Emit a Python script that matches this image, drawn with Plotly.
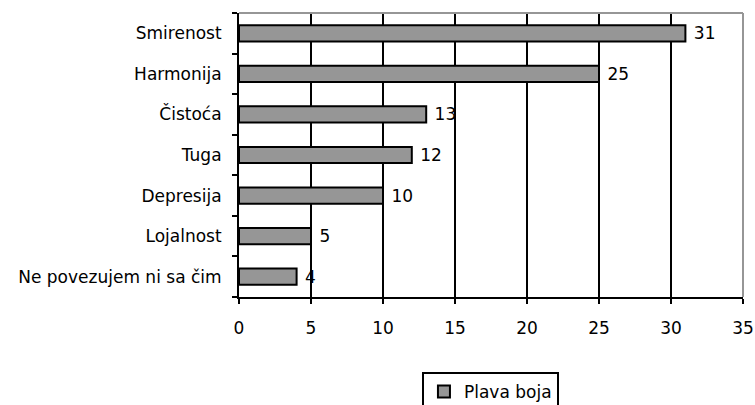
import plotly.graph_objects as go

categories = ["Smirenost", "Harmonija", "Čistoća", "Tuga", "Depresija", "Lojalnost", "Ne povezujem ni sa čim"]
values = [31, 25, 13, 12, 10, 5, 4]
series_name = "Plava boja"
x_ticks = [0, 5, 10, 15, 20, 25, 30, 35]

FONT = "DejaVu Sans"
FS = 17

fig = go.Figure()
fig.add_trace(go.Bar(
    y=categories, x=values, orientation="h", name=series_name,
    marker=dict(color="#969696", line=dict(color="black", width=2)),
    text=[" " + str(v) for v in values], textposition="outside",
    textfont=dict(family=FONT, size=FS, color="black"),
    constraintext="none", cliponaxis=False, showlegend=True,
))

fig.update_layout(
    width=755, height=405,
    margin=dict(l=239, r=12, t=13, b=108, autoexpand=False),
    paper_bgcolor="white", plot_bgcolor="white",
    font=dict(family=FONT, size=FS, color="black"),
    bargap=0.6,
    xaxis=dict(range=[0, 35], tickvals=x_ticks, showgrid=True, gridcolor="black", gridwidth=2,
               showline=True, linecolor="black", linewidth=2, ticks="outside", ticklen=5,
               tickwidth=2, tickcolor="black", zeroline=False, automargin=False,
               ticklabelstandoff=10,
               tickfont=dict(family=FONT, size=FS, color="black")),
    yaxis=dict(categoryorder="array", categoryarray=categories[::-1], autorange=False,
               range=[-0.5, 6.5], showgrid=False, showline=True, linecolor="black", linewidth=2,
               ticks="outside", tickson="boundaries", ticklen=5, tickwidth=2, tickcolor="black",
               automargin=False, ticklabelstandoff=12,
               tickfont=dict(family=FONT, size=FS, color="black")),
    legend=dict(x=0.363, y=-0.264, xanchor="left", yanchor="top", bordercolor="black",
                borderwidth=2, bgcolor="white", font=dict(family=FONT, size=FS, color="black")),
    shapes=[
        dict(type="line", xref="paper", yref="paper", x0=0, x1=1, y0=1, y1=1,
             line=dict(color="#969696", width=2)),
        dict(type="line", xref="paper", yref="paper", x0=1, x1=1, y0=0, y1=1,
             line=dict(color="#969696", width=2)),
    ],
)

fig.write_html("out.html", config={"displayModeBar": False},
               post_script="document.body.style.margin='0';document.body.style.overflow='hidden';")
